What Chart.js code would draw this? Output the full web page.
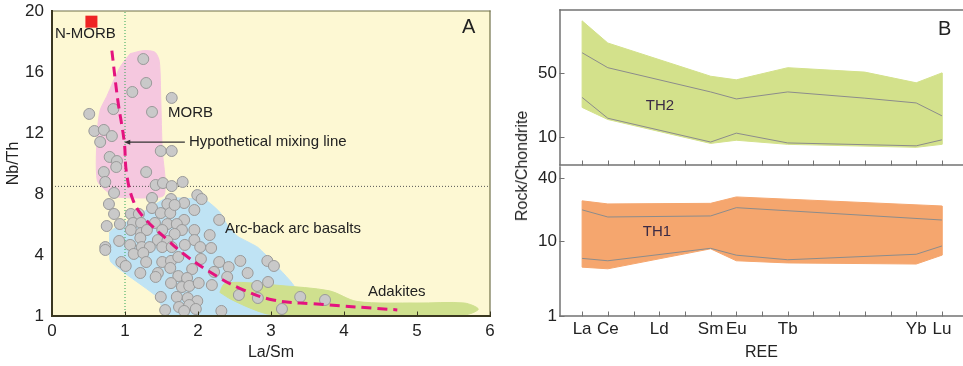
<!DOCTYPE html>
<html>
<head>
<meta charset="utf-8">
<script src="https://cdn.jsdelivr.net/npm/chart.js@4.4.0/dist/chart.umd.min.js"></script>
<style>
    body { margin: 0; background: #fff; }
    #fig { position: relative; width: 963px; height: 366px; overflow: hidden; font-family: "Liberation Sans", Arial, sans-serif; }
    #fig canvas { position: absolute; }
    #ylabB { position: absolute; left: 522px; top: 166px; transform: translate(-50%, -50%) rotate(-90deg); font-size: 16px; color: #222; white-space: nowrap; }
</style>
</head>
<body>
<div id="fig">
    <canvas id="chartA" width="500" height="366" style="left:0;top:0"></canvas>
    <canvas id="chartB1" width="463" height="168" style="left:500px;top:0"></canvas>
    <canvas id="chartB2" width="463" height="201" style="left:500px;top:165px"></canvas>
    <div id="ylabB">Rock/Chondrite</div>
</div>
<script>
// ---- panel A data (La/Sm vs Nb/Th) ----
const sampleLaSm = [1.25, 1.29, 1.10, 1.64, 1.37, 0.84, 0.51, 0.58, 0.71, 0.82, 0.66, 1.49, 1.64, 0.79, 0.89, 0.88, 0.71, 1.29,
    0.73, 1.42, 1.52, 1.64, 1.79, 0.85, 1.37, 1.63, 1.99, 2.05, 0.78, 1.37, 1.58, 1.81, 1.95, 0.85, 1.08, 1.19, 1.49, 1.62,
    1.68, 0.93, 1.11, 1.22, 1.41, 1.58, 1.81, 1.71, 2.29, 0.75, 1.08, 1.22, 1.30, 1.51, 1.78, 1.95, 1.68, 2.16, 0.92, 1.07,
    1.21, 1.45, 1.58, 1.95, 0.73, 0.73, 1.23, 1.34, 1.51, 1.64, 1.82, 2.03, 2.18, 1.12, 1.25, 0.95, 1.01, 1.29, 1.51, 1.63,
    1.73, 2.04, 2.29, 2.58, 2.95, 3.04, 1.21, 1.45, 1.42, 1.62, 1.92, 2.22, 2.42, 2.68, 1.73, 1.85, 2.40, 1.63, 1.78, 1.88,
    2.01, 2.19, 2.81, 2.96, 1.49, 1.71, 1.86, 1.99, 2.56, 2.82, 3.40, 3.74, 1.55, 1.74, 1.88, 1.97, 1.81, 2.32, 3.15];
const sampleNbTh = [16.85, 15.28, 14.69, 14.30, 13.38, 13.57, 13.25, 12.13, 12.20, 11.80, 11.41, 10.82, 10.82, 10.43, 10.16, 9.77, 9.44, 9.44,
    8.79, 8.59, 8.72, 8.52, 8.79, 8.07, 7.74, 7.67, 7.93, 7.67, 7.34, 7.08, 7.34, 7.41, 6.95, 6.69, 6.69, 6.69, 6.75, 6.75,
    7.28, 6.03, 6.10, 6.10, 6.10, 6.03, 6.30, 6.03, 6.30, 5.90, 5.64, 5.44, 5.64, 5.64, 5.64, 5.64, 5.38, 5.31, 4.92, 4.66,
    5.11, 4.98, 4.92, 4.98, 4.52, 4.33, 4.52, 4.52, 4.52, 4.52, 4.66, 4.52, 4.46, 4.07, 4.13, 3.54, 3.28, 3.54, 3.54, 3.61,
    3.87, 3.74, 3.54, 3.61, 3.61, 3.28, 2.82, 2.82, 2.56, 3.15, 3.08, 2.89, 3.21, 2.82, 2.62, 2.49, 2.56, 2.16, 1.90, 1.97,
    2.16, 2.03, 1.97, 2.23, 1.25, 1.25, 1.18, 0.98, 1.38, 1.18, 1.25, 1.05, 0.39, 0.59, 0.72, 0.46, 0.33, 0.33, 0.46];

const nmorbLaSm = 0.54;
const nmorbNbTh = 19.3;

const mixLaSm = [0.82, 0.90, 0.99, 1.02, 1.11, 1.25, 1.58, 1.85, 2.26, 2.58, 3.03, 3.58, 4.73];
const mixNbTh = [17.4, 14.2, 11.4, 9.4, 7.6, 6.5, 5.0, 3.9, 2.6, 1.8, 1.05, 0.8, 0.4];

const morbFieldLaSm = [1.07, 1.25, 1.41, 1.47, 1.49, 1.51, 1.55, 1.53, 1.35, 0.90, 0.77, 0.62, 0.62, 0.66, 0.75, 0.93, 1.07];
const morbFieldNbTh = [17.2, 17.4, 17.3, 16.7, 14.2, 10.9, 8.9, 7.9, 7.75, 7.8, 8.1, 8.9, 12.0, 13.5, 14.4, 16.3, 17.2];

const arcFieldLaSm = [0.79, 0.80, 1.00, 1.44, 1.58, 2.99, 3.33, 3.05, 2.82, 2.55, 2.42, 2.30, 2.10, 1.58, 1.44, 1.11, 0.84, 0.79];
const arcFieldNbTh = [5.5, 3.6, 2.8, 1.25, 0, 0, 1.8, 3.4, 4.5, 5.2, 5.8, 6.8, 7.6, 7.75, 7.4, 6.4, 5.7, 5.5];

const adakFieldLaSm = [2.30, 2.36, 2.60, 3.12, 3.80, 4.18, 5.00, 5.65, 5.84, 5.65, 4.10, 3.00, 2.75, 2.45, 2.30];
const adakFieldNbTh = [1.55, 2.1, 2.2, 2.0, 1.65, 0.95, 0.85, 0.85, 0.45, 0.07, 0.05, 0.1, 0.45, 1.1, 1.55];

const refLaSm = 1;
const refNbTh = 8.5;

const laSmTicks = [0, 1, 2, 3, 4, 5, 6];
const nbThTickValues = [0, 4, 8, 12, 16, 20];
const nbThTickLabels = ['1', '4', '8', '12', '16', '20'];

// ---- panel B data (chondrite-normalised REE) ----
const reeNames = ['La', 'Ce', 'Pr', 'Nd', 'Pm', 'Sm', 'Eu', 'Gd', 'Tb', 'Dy', 'Ho', 'Er', 'Tm', 'Yb', 'Lu'];
const reeTickLabels = ['La', 'Ce', '', 'Ld', '', 'Sm', 'Eu', '', 'Tb', '', '', '', '', 'Yb', 'Lu'];

const th2TopIdx = [0, 1, 5, 6, 8, 11, 13, 14];
const th2TopVal = [185, 106, 46, 42, 57, 51, 39, 50];
const th2BottomIdx = [0, 1, 5, 6, 8, 13, 14];
const th2BottomVal = [21, 15.5, 8.5, 9.2, 8.3, 7.7, 8.3];
const th2HighIdx = [0, 1, 5, 6, 8, 11, 13, 14];
const th2HighVal = [83, 57, 31, 26, 31, 26.5, 23.5, 17];
const th2LowIdx = [0, 1, 5, 6, 8, 13, 14];
const th2LowVal = [27, 16, 8.8, 11, 8.6, 8.0, 9.3];

const th1TopIdx = [0, 1, 5, 6, 14];
const th1TopVal = [24.3, 22.7, 23.0, 26.5, 21.7];
const th1BottomIdx = [0, 1, 5, 6, 8, 13, 14];
const th1BottomVal = [5.6, 5.4, 8.4, 6.45, 6.15, 6.0, 7.3];
const th1HighIdx = [0, 1, 5, 6, 14];
const th1HighVal = [19.9, 17.0, 17.4, 20.9, 15.9];
const th1LowIdx = [0, 1, 5, 6, 8, 13, 14];
const th1LowVal = [6.8, 6.45, 8.5, 7.3, 6.6, 7.45, 8.95];

const th2TickValues = [10, 50];
const th1TickValues = [1.9, 10, 40];
const th1TickLabels = ['1', '10', '40'];

// ---- helpers ----
const FONT = '"Liberation Sans", Arial, sans-serif';
Chart.defaults.font.family = FONT;
Chart.defaults.color = '#222';

function pts(xs, ys) {
    return xs.map((x, i) => ({ x: x, y: ys[i] }));
}

function envelope(topIdx, topVal, botIdx, botVal) {
    const top = pts(topIdx, topVal);
    const bot = pts(botIdx, botVal).reverse();
    return top.concat(bot, [top[0]]);
}

function shape(data, color, order, tension) {
    return {
        type: 'line', data: data, fill: 'shape', backgroundColor: color, borderColor: color,
        borderWidth: 1, pointRadius: 0, tension: tension || 0, order: order
    };
}

function thinLine(data, color, order, dash) {
    return {
        type: 'line', data: data, fill: false, borderColor: color, borderWidth: 1,
        borderDash: dash || [], pointRadius: 0, tension: 0, order: order
    };
}

// fixed scale size, no extra padding for edge labels
function fixSize(w, h) {
    return s => {
        if (w !== null) s.width = w;
        if (h !== null) s.height = h;
        s.paddingTop = 0; s.paddingBottom = 0; s.paddingLeft = 0; s.paddingRight = 0;
    };
}

const areaBg = {
    id: 'areaBg',
    beforeDraw(chart, args, opts) {
        if (!opts.color) return;
        const a = chart.chartArea;
        chart.ctx.save();
        chart.ctx.fillStyle = opts.color;
        chart.ctx.fillRect(a.left, a.top, a.right - a.left, a.bottom - a.top);
        chart.ctx.restore();
    }
};

// frame lines + short tick marks drawn inside the plot
const frame = {
    id: 'frame',
    afterDraw(chart, args, opts) {
        const ctx = chart.ctx;
        const a = chart.chartArea;
        ctx.save();
        ctx.lineCap = 'square';
        (opts.edges || []).forEach(e => {
            ctx.strokeStyle = e.color;
            ctx.lineWidth = e.width;
            ctx.beginPath();
            if (e.side === 'top') { ctx.moveTo(a.left, a.top); ctx.lineTo(a.right, a.top); }
            if (e.side === 'right') { ctx.moveTo(a.right, a.top); ctx.lineTo(a.right, a.bottom); }
            if (e.side === 'bottom') { ctx.moveTo(a.left, a.bottom); ctx.lineTo(a.right, a.bottom); }
            if (e.side === 'left') { ctx.moveTo(a.left, a.top); ctx.lineTo(a.left, a.bottom); }
            ctx.stroke();
        });
        ctx.strokeStyle = opts.tickColor || '#444';
        ctx.lineWidth = 1;
        const xs = chart.scales.x, ys = chart.scales.y;
        if (opts.xTick) {
            xs.ticks.forEach(t => {
                const p = Math.round(xs.getPixelForValue(t.value)) + 0.5;
                ctx.beginPath(); ctx.moveTo(p, a.bottom); ctx.lineTo(p, a.bottom - opts.xTick); ctx.stroke();
            });
        }
        if (opts.yTick) {
            ys.ticks.forEach(t => {
                const p = Math.round(ys.getPixelForValue(t.value)) + 0.5;
                ctx.beginPath(); ctx.moveTo(a.left, p); ctx.lineTo(a.left + opts.yTick, p); ctx.stroke();
            });
        }
        ctx.restore();
    }
};

const notes = {
    id: 'notes',
    afterDatasetsDraw(chart, args, opts) {
        const ctx = chart.ctx;
        ctx.save();
        if (opts.arrow) {
            const r = opts.arrow;
            const x1 = chart.scales.x.getPixelForValue(r.from[0]);
            const x2 = chart.scales.x.getPixelForValue(r.to[0]);
            const y = chart.scales.y.getPixelForValue(r.to[1]);
            ctx.strokeStyle = '#333';
            ctx.fillStyle = '#333';
            ctx.lineWidth = 1.2;
            ctx.beginPath(); ctx.moveTo(x1, y); ctx.lineTo(x2 + 4, y); ctx.stroke();
            ctx.beginPath(); ctx.moveTo(x2, y); ctx.lineTo(x2 + 6, y - 2.5); ctx.lineTo(x2 + 6, y + 2.5); ctx.closePath(); ctx.fill();
        }
        (opts.items || []).forEach(t => {
            ctx.font = t.size + 'px ' + FONT;
            ctx.fillStyle = t.color || '#222';
            ctx.textAlign = t.align || 'left';
            ctx.textBaseline = 'middle';
            ctx.fillText(t.text, t.x, t.y);
        });
        ctx.restore();
    }
};

// ---- chart A ----
new Chart(document.getElementById('chartA'), {
    type: 'scatter',
    data: {
        datasets: [
            {
                type: 'line', label: 'Hypothetical mixing line', data: pts(mixLaSm, mixNbTh), borderColor: '#e4137f',
                borderWidth: 3, borderDash: [10, 6], pointRadius: 0, tension: 0.4, fill: false, order: 0
            },
            {
                label: 'Samples', data: pts(sampleLaSm, sampleNbTh), pointRadius: 5.5, pointHoverRadius: 5.5,
                backgroundColor: '#c9c9c9', borderColor: '#9a9a9a', borderWidth: 1, order: 1, clip: 8
            },
            {
                label: 'N-MORB', data: [{ x: nmorbLaSm, y: nmorbNbTh }], pointStyle: 'rect', pointRadius: 8.5,
                backgroundColor: '#ee2424', borderColor: '#ee2424', borderWidth: 0, order: 1
            },
            thinLine([{ x: refLaSm, y: 0 }, { x: refLaSm, y: 20 }], '#2fa655', 2, [1, 2]),
            thinLine([{ x: 0, y: refNbTh }, { x: 6, y: refNbTh }], '#555', 2, [1, 2]),
            shape(pts(adakFieldLaSm, adakFieldNbTh), '#cfe08e', 3, 0.3),
            shape(pts(morbFieldLaSm, morbFieldNbTh), '#f5c8df', 4, 0.25),
            shape(pts(arcFieldLaSm, arcFieldNbTh), '#bfe3f4', 5, 0.15)
        ]
    },
    options: {
        responsive: false,
        animation: false,
        layout: { padding: { top: 11, right: 10, left: 0, bottom: 0 } },
        plugins: {
            legend: { display: false },
            tooltip: { enabled: false },
            areaBg: { color: '#fdf8d3' },
            frame: {
                edges: [
                    { side: 'top', color: '#707048', width: 1.2 },
                    { side: 'right', color: '#707048', width: 1.2 },
                    { side: 'left', color: '#3a3720', width: 2 },
                    { side: 'bottom', color: '#3a3720', width: 2 }
                ],
                tickColor: '#3a3720', xTick: 4, yTick: 0
            },
            notes: {
                arrow: { from: [1.82, 11.4], to: [0.99, 11.4] },
                items: [
                    { text: 'N-MORB', x: 55, y: 34, size: 15 },
                    { text: 'MORB', x: 168, y: 113, size: 15 },
                    { text: 'Hypothetical mixing line', x: 189, y: 142, size: 15 },
                    { text: 'Arc-back arc basalts', x: 225, y: 229, size: 15 },
                    { text: 'Adakites', x: 368, y: 292, size: 15 },
                    { text: 'A', x: 462, y: 27, size: 20 }
                ]
            }
        },
        scales: {
            x: {
                type: 'linear', min: 0, max: 6,
                afterFit: fixSize(null, 50),
                afterBuildTicks: s => { s.ticks = laSmTicks.map(v => ({ value: v })); },
                grid: { display: false, drawTicks: false },
                border: { display: false },
                ticks: { font: { size: 17 }, padding: 5, color: '#222' },
                title: { display: true, text: 'La/Sm', font: { size: 16 }, padding: { top: 0, bottom: 4 }, color: '#222' }
            },
            y: {
                type: 'linear', min: 0, max: 20,
                afterFit: fixSize(52, null),
                afterBuildTicks: s => { s.ticks = [0, 2, 4, 6, 8, 10, 12, 14, 16, 18, 20].map(v => ({ value: v })); },
                grid: { display: false, drawTicks: false },
                border: { display: false },
                ticks: {
                    font: { size: 17 }, padding: 8, color: '#222',
                    callback: v => { const i = nbThTickValues.indexOf(v); return i >= 0 ? nbThTickLabels[i] : ''; }
                },
                title: { display: true, text: 'Nb/Th', font: { size: 16 }, padding: { top: 4, bottom: 0 }, color: '#222' }
            }
        }
    },
    plugins: [areaBg, frame, notes]
});

// ---- chart B (two stacked panels) ----
function reeX(showLabels, title) {
    return {
        type: 'linear', min: -0.86, max: 14.82,
        afterFit: fixSize(null, showLabels ? 50 : 3),
        afterBuildTicks: s => { s.ticks = reeNames.map((n, i) => ({ value: i })); },
        grid: { display: false, drawTicks: false },
        border: { display: false },
        ticks: {
            display: showLabels, autoSkip: false, maxRotation: 0, font: { size: 17 }, padding: 3, color: '#222',
            callback: v => reeTickLabels[v] || ''
        },
        title: { display: !!title, text: title, font: { size: 16 }, padding: { top: 0, bottom: 4 }, color: '#222' }
    };
}

const edgeGray = '#727272';

new Chart(document.getElementById('chartB1'), {
    type: 'scatter',
    data: {
        datasets: [
            thinLine(pts(th2HighIdx, th2HighVal), '#8c8c8c', 0),
            thinLine(pts(th2LowIdx, th2LowVal), '#8c8c8c', 0),
            shape(envelope(th2TopIdx, th2TopVal, th2BottomIdx, th2BottomVal), '#d3e18b', 1)
        ]
    },
    options: {
        responsive: false,
        animation: false,
        layout: { padding: { top: 10, right: 0, left: 0, bottom: 0 } },
        plugins: {
            legend: { display: false },
            tooltip: { enabled: false },
            frame: {
                edges: [
                    { side: 'top', color: edgeGray, width: 1.5 },
                    { side: 'left', color: edgeGray, width: 1.5 },
                    { side: 'bottom', color: edgeGray, width: 1.5 }
                ],
                tickColor: edgeGray, xTick: 4, yTick: 4
            },
            notes: {
                items: [
                    { text: 'TH2', x: 160, y: 106, size: 15, color: '#3b2b45', align: 'center' },
                    { text: 'B', x: 438, y: 29, size: 20 }
                ]
            }
        },
        scales: {
            x: reeX(false),
            y: {
                type: 'logarithmic', min: 4.94, max: 243,
                afterFit: fixSize(60, null),
                afterBuildTicks: s => { s.ticks = th2TickValues.map(v => ({ value: v })); },
                grid: { display: false, drawTicks: false },
                border: { display: false },
                ticks: { font: { size: 17 }, padding: 3, color: '#222', callback: v => String(v) }
            }
        }
    },
    plugins: [frame, notes]
});

new Chart(document.getElementById('chartB2'), {
    type: 'scatter',
    data: {
        datasets: [
            thinLine(pts(th1HighIdx, th1HighVal), '#8c8c8c', 0),
            thinLine(pts(th1LowIdx, th1LowVal), '#8c8c8c', 0),
            shape(envelope(th1TopIdx, th1TopVal, th1BottomIdx, th1BottomVal), '#f5a66e', 1)
        ]
    },
    options: {
        responsive: false,
        animation: false,
        layout: { padding: { top: 2, right: 0, left: 0, bottom: 0 } },
        plugins: {
            legend: { display: false },
            tooltip: { enabled: false },
            frame: {
                edges: [
                    { side: 'left', color: edgeGray, width: 1.5 },
                    { side: 'bottom', color: edgeGray, width: 1.5 }
                ],
                tickColor: edgeGray, xTick: 4, yTick: 4
            },
            notes: {
                items: [
                    { text: 'TH1', x: 157, y: 67, size: 15, color: '#3b2b45', align: 'center' }
                ]
            }
        },
        scales: {
            x: reeX(true, 'REE'),
            y: {
                type: 'logarithmic', min: 1.9, max: 51.4,
                afterFit: fixSize(60, null),
                afterBuildTicks: s => { s.ticks = th1TickValues.map(v => ({ value: v })); },
                grid: { display: false, drawTicks: false },
                border: { display: false },
                ticks: {
                    font: { size: 17 }, padding: 3, color: '#222',
                    callback: v => { const i = th1TickValues.indexOf(v); return i >= 0 ? th1TickLabels[i] : ''; }
                }
            }
        }
    },
    plugins: [frame, notes]
});
</script>
</body>
</html>
